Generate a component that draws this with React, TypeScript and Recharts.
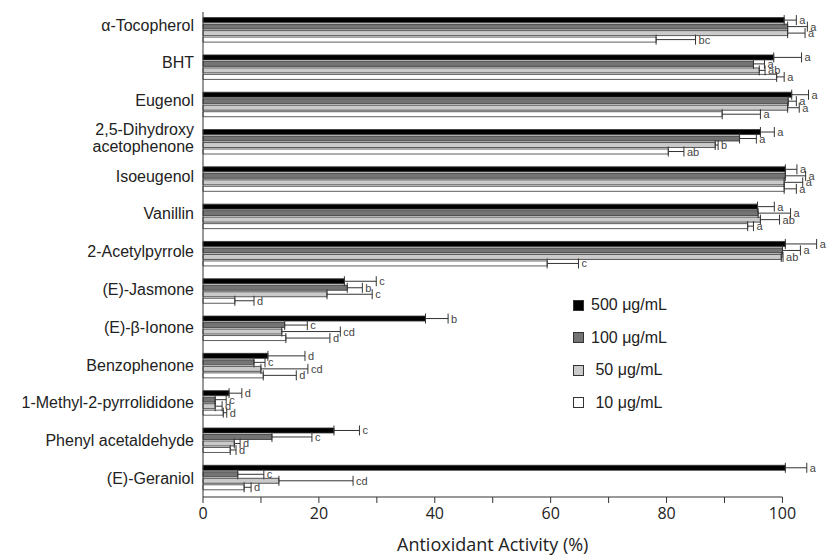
import React from 'react';
import { BarChart, Bar, XAxis, YAxis, ErrorBar, LabelList, Legend, Label } from 'recharts';

const categories = [
  'α-Tocopherol',
  'BHT',
  'Eugenol',
  '2,5-Dihydroxy\nacetophenone',
  'Isoeugenol',
  'Vanillin',
  '2-Acetylpyrrole',
  '(E)-Jasmone',
  '(E)-β-Ionone',
  'Benzophenone',
  '1-Methyl-2-pyrrolididone',
  'Phenyl acetaldehyde',
  '(E)-Geraniol',
];

const v500 = [100.3, 98.5, 101.6, 96.2, 100.5, 95.7, 100.5, 24.4, 38.4, 11.2, 4.5, 22.6, 100.5];
const e500 = [2.1, 4.8, 2.9, 2.4, 2.0, 2.9, 5.4, 5.5, 3.9, 6.4, 2.2, 4.4, 3.7];
const l500 = ['a', 'a', 'a', 'a', 'a', 'a', 'a', 'c', 'b', 'd', 'd', 'c', 'a'];

const v100 = [100.9, 95.0, 101.0, 92.6, 100.5, 95.8, 100.0, 24.9, 14.1, 8.8, 2.1, 11.9, 6.0];
const e100 = [3.4, 1.9, 1.4, 2.9, 3.5, 5.6, 3.1, 2.6, 3.9, 1.9, 1.9, 6.9, 4.5];
const l100 = ['a', 'a', 'a', 'a', 'a', 'a', 'a', 'b', 'c', 'c', 'c', 'c', 'c'];

const v50 = [100.9, 96.0, 100.9, 88.4, 100.3, 96.2, 99.8, 21.4, 13.6, 10.0, 2.1, 5.4, 13.1];
const e50 = [3.0, 1.0, 2.0, 0.5, 3.2, 3.3, 0.3, 7.8, 10.1, 8.1, 1.2, 1.0, 12.8];
const l50 = ['a', 'ab', 'a', 'b', 'a', 'ab', 'ab', 'c', 'cd', 'cd', 'd', 'd', 'cd'];

const v10 = [78.2, 99.0, 89.6, 80.3, 100.3, 94.0, 59.4, 5.5, 14.3, 10.4, 3.5, 4.7, 7.1];
const e10 = [6.8, 1.3, 6.6, 2.7, 2.1, 1.0, 5.4, 3.3, 7.6, 5.7, 0.6, 1.0, 1.2];
const l10 = ['bc', 'a', 'a', 'ab', 'a', 'a', 'c', 'd', 'd', 'd', 'd', 'd', 'd'];

const seriesNames = ['500 μg/mL', '100 μg/mL', ' 50 μg/mL', ' 10 μg/mL'];
const xTicks = [0, 10, 20, 30, 40, 50, 60, 70, 80, 90, 100];
const X_MAX = 107;
const AXIS_END = 100;

const data = categories.map((name, i) => ({
  name,
  v500: v500[i],
  e500: [0, e500[i]],
  v100: v100[i],
  e100: [0, e100[i]],
  v50: v50[i],
  e50: [0, e50[i]],
  v10: v10[i],
  e10: [0, e10[i]],
}));

const series = [
  { key: 'v500', err: 'e500', errs: e500, letters: l500, fill: '#000000', name: seriesNames[0] },
  { key: 'v100', err: 'e100', errs: e100, letters: l100, fill: '#747474', name: seriesNames[1] },
  { key: 'v50', err: 'e50', errs: e50, letters: l50, fill: '#cacaca', name: seriesNames[2] },
  { key: 'v10', err: 'e10', errs: e10, letters: l10, fill: '#ffffff', name: seriesNames[3] },
];

const catFont = '"Liberation Sans", Arial, sans-serif';
const numFont = '"Open Sans", sans-serif';

const YTick = (props: any) => {
  const { x, y, payload, index } = props;
  const lines = String(payload.value).split('\n');
  const lh = 17;
  const shift = -5.5 + (Number(index) || 0) * 0.46;
  return (
    <text x={x} y={y} textAnchor="end" fontSize={16} fontFamily={catFont} fill="#222">
      {lines.map((l, i) => (
        <tspan key={i} x={x} dy={i === 0 ? -((lines.length - 1) * lh) / 2 + 5.5 + shift : lh}>
          {l}
        </tspan>
      ))}
    </text>
  );
};

const TICK_SIZE = 6;
const TICK_MARGIN = 5;

const XTick = (props: any) => {
  const { x, y, payload, width } = props;
  const v = payload.value;
  const axisY = y - TICK_SIZE - TICK_MARGIN;
  return (
    <g>
      {v === 0 && typeof width === 'number' && (
        <line x1={x} x2={x + (width * AXIS_END) / X_MAX} y1={axisY} y2={axisY} stroke="#333" strokeWidth={1} />
      )}
      {v % 20 === 0 && (
        <text x={x} y={y} dy="0.71em" textAnchor="middle" fontSize={16} fontFamily={numFont} fill="#222">
          {v}
        </text>
      )}
    </g>
  );
};

const renderTitle = (p: any) => {
  const vb = p.viewBox || {};
  const cx = vb.x + (vb.width * AXIS_END) / 2 / X_MAX;
  return (
    <text x={cx} y={vb.y + vb.height - 5} textAnchor="middle" fontSize={18} fontFamily={numFont} fill="#222">
      Antioxidant Activity (%)
    </text>
  );
};

const makeLetter = (errs: number[], letters: string[]) => (p: any) => {
  const vb = p.viewBox && typeof p.viewBox.width === 'number' ? p.viewBox : p;
  const { x, y, width, height } = vb;
  const idx = p.index;
  const val = Number(p.value);
  if (idx == null || !val) return null;
  const ppu = width / val;
  const xe = x + width + errs[idx] * ppu + 3;
  return (
    <text x={xe} y={y + height / 2 + 4} fontSize={11} fontFamily={catFont} fill="#444">
      {letters[idx]}
    </text>
  );
};

const renderLegend = () => (
  <div style={{ fontFamily: catFont, fontSize: 16, color: '#222' }}>
    {series.map((s) => (
      <div key={s.key} style={{ display: 'flex', alignItems: 'center', height: 32.5 }}>
        <span
          style={{
            display: 'inline-block',
            width: 9,
            height: 9,
            background: s.fill,
            border: '1px solid #333',
            marginRight: 7,
          }}
        />
        <span style={{ whiteSpace: 'pre' }}>{s.name}</span>
      </div>
    ))}
  </div>
);

export default function App() {
  return (
    <div style={{ position: 'absolute', left: 0, top: 0, width: 827, height: 556, background: '#fff' }}>
      <BarChart
        width={827}
        height={556}
        data={data}
        layout="vertical"
        margin={{ top: 12, right: 4, left: 0, bottom: 0 }}
        barCategoryGap="15%"
        barGap={1.5}
      >
        <XAxis
          type="number"
          domain={[0, X_MAX]}
          ticks={xTicks}
          interval={0}
          axisLine={false}
          tickLine={{ stroke: '#333' }}
          tickSize={TICK_SIZE}
          tickMargin={TICK_MARGIN}
          height={59}
          tick={<XTick />}
        >
          <Label content={renderTitle} />
        </XAxis>
        <YAxis
          type="category"
          dataKey="name"
          width={203}
          axisLine={{ stroke: '#333' }}
          tickLine={false}
          tickSize={0}
          tickMargin={9}
          interval={0}
          tick={<YTick />}
        />
        <Legend
          layout="vertical"
          align="center"
          verticalAlign="middle"
          wrapperStyle={{ left: 573, top: 289, width: 140, height: 132 }}
          content={renderLegend}
        />
        {series.map((s) => (
          <Bar
            key={s.key}
            dataKey={s.key}
            name={s.name}
            fill={s.fill}
            stroke="#333"
            strokeWidth={0.8}
            isAnimationActive={false}
          >
            <ErrorBar dataKey={s.err} direction="x" width={5} stroke="#333" strokeWidth={1} />
            <LabelList dataKey={s.key} content={makeLetter(s.errs, s.letters)} />
          </Bar>
        ))}
      </BarChart>
    </div>
  );
}
